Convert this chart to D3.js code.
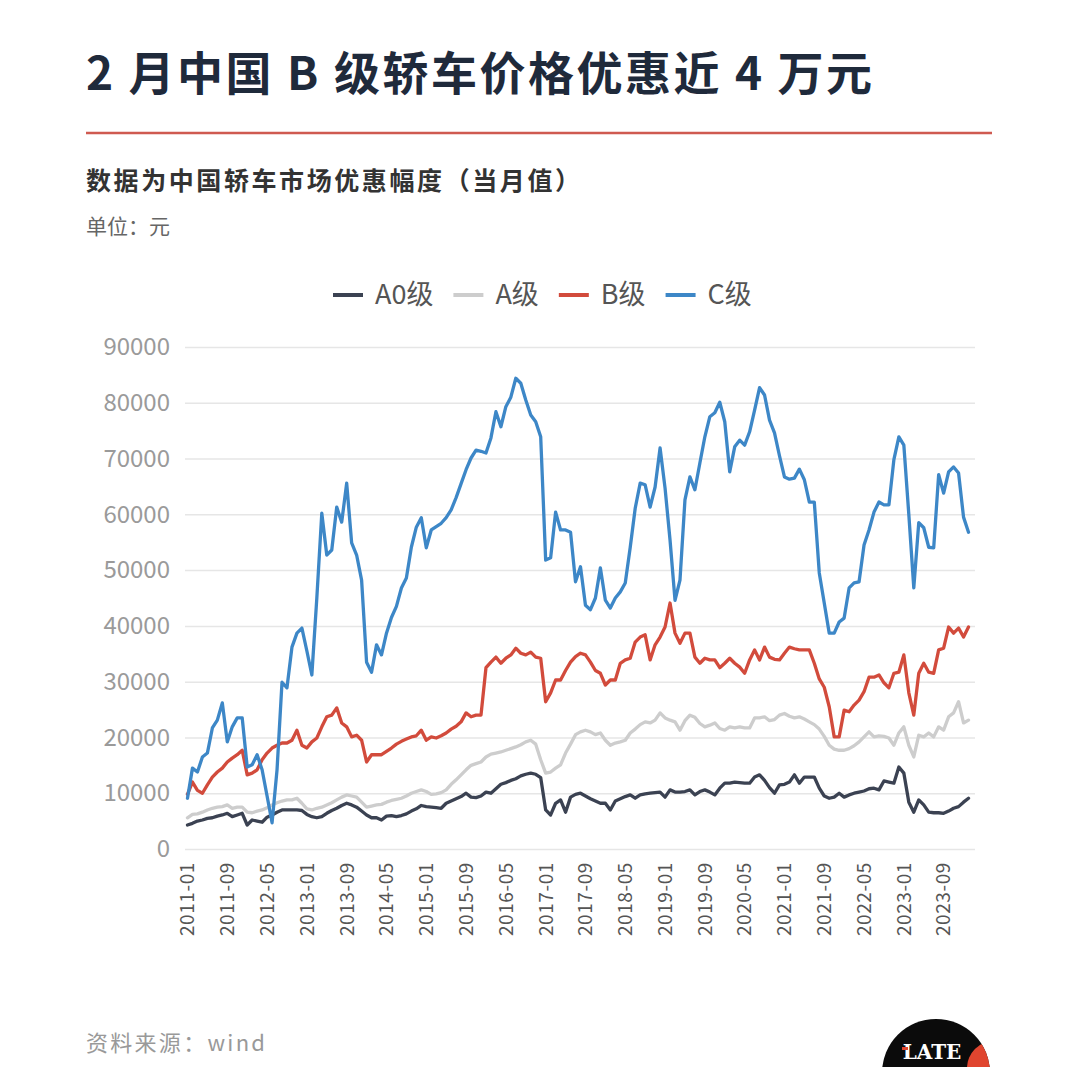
<!DOCTYPE html>
<html>
<head>
<meta charset="utf-8">
<script src="https://cdn.jsdelivr.net/npm/d3@7"></script>
<style>
  html, body { margin: 0; padding: 0; background: #fff; }
  svg { display: block; font-family: "Noto Sans CJK SC", "Noto Sans", sans-serif; }
</style>
</head>
<body>
<script>
// monthly discount, yuan, 2011-01 .. 2024-02
const startMonth = new Date(2011, 0, 1);
const endMonth = new Date(2024, 1, 1);

const seriesNames = ["A0级", "A级", "B级", "C级"];

const a0Values = [
  4300, 4600, 5000, 5200, 5500, 5600, 5900, 6100, 6400, 5800, 6100, 6400,
  4300, 5200, 5000, 4800, 5700, 6100, 6600, 7000, 7000, 7000, 7000, 6900,
  6200, 5800, 5600, 5800, 6400, 6900, 7300, 7800, 8200, 7900, 7500, 6800,
  6100, 5600, 5600, 5200, 5900, 6000, 5800, 6000, 6300, 6800, 7200, 7800,
  7600, 7500, 7400, 7300, 8200, 8600, 9000, 9400, 10000, 9300, 9200, 9500,
  10200, 10000, 10800, 11600, 11900, 12300, 12600, 13100, 13400, 13600, 13400, 12800,
  7000, 6100, 8200, 8800, 6600, 9300, 9800, 10000, 9500, 9000, 8600, 8200,
  8200, 7000, 8600, 9000, 9400, 9700, 9100, 9700, 9900, 10000, 10100, 10200,
  9300, 10600, 10200, 10200, 10300, 10600, 9700, 10300, 10600, 10200, 9700, 10900,
  11800, 11800, 12000, 11900, 11800, 11800, 12900, 13300, 12300, 11000, 10000, 11500,
  11600, 12000, 13300, 11800, 12900, 12900, 12900, 10900, 9500, 9100, 9300, 10000,
  9300, 9700, 10000, 10200, 10400, 10800, 10900, 10600, 12200, 12000, 11800, 14700,
  13600, 8400, 6600, 8800, 7900, 6600, 6500, 6500, 6400, 6800, 7300, 7600,
  8400, 9100
];

const aValues = [
  5600, 6200, 6300, 6600, 7000, 7300, 7500, 7600, 7900, 7300, 7500, 7500,
  6600, 6500, 6800, 7000, 7400, 7900, 8300, 8600, 8800, 8800, 9100, 8200,
  7200, 7000, 7300, 7500, 7900, 8300, 8800, 9300, 9700, 9500, 9300, 8400,
  7500, 7700, 7900, 8000, 8400, 8700, 8900, 9100, 9500, 10000, 10300, 10600,
  10300, 9800, 9900, 10100, 10600, 11600, 12400, 13300, 14200, 15000, 15300, 15600,
  16500, 17000, 17200, 17400, 17700, 18000, 18300, 18700, 19200, 19500, 18800, 16000,
  13600, 13800, 14500, 15100, 17200, 18800, 20500, 21000, 21300, 21000, 20500, 20800,
  19500, 18600, 19000, 19200, 19500, 20800, 21500, 22300, 22800, 22600, 23100, 24400,
  23500, 23100, 22800, 21300, 23000, 24000, 23600, 22500, 21900, 22200, 22600, 21600,
  21300, 21900, 21700, 21900, 21700, 21700, 23500, 23500, 23700, 23000, 23200, 24000,
  24300, 23800, 23500, 23700, 23300, 22800, 22300, 21500, 20200, 18600, 17900, 17700,
  17700, 18000, 18500, 19200, 20100, 21000, 20100, 20300, 20200, 19900, 18600, 20800,
  21900, 18600, 16500, 20400, 20100, 20800, 20100, 21900, 21300, 23700, 24400, 26400,
  22600, 23100
];

const bValues = [
  9800, 12000, 10500, 10000, 11500, 12900, 13800, 14500, 15600, 16300, 16900, 17700,
  13300, 13600, 14200, 16000, 17200, 18100, 18600, 19000, 19000, 19500, 21300, 18600,
  18100, 19200, 19900, 21900, 23700, 24000, 25300, 22600, 21900, 20100, 20400, 19500,
  15600, 16900, 16900, 16900, 17500, 18100, 18800, 19300, 19700, 20100, 20300, 21300,
  19500, 20100, 19900, 20300, 20800, 21500, 22000, 22800, 24400, 23700, 24000, 24000,
  32500, 33500, 34400, 33300, 34200, 34800, 36000, 35100, 34800, 35300, 34400, 34200,
  26400, 28000, 30300, 30300, 32000, 33500, 34500, 35100, 34800, 33500, 32000, 31500,
  29400, 30300, 30300, 33300, 33900, 34200, 37100, 38000, 38400, 33900, 36600, 38000,
  39800, 44100, 38700, 36900, 38700, 38700, 34400, 33300, 34200, 33900, 33900, 32500,
  33300, 34200, 33300, 32600, 31500, 33900, 35700, 33900, 36200, 34400, 34000, 33900,
  35100, 36200, 35900, 35700, 35700, 35700, 33300, 30500, 29000, 25500, 20100, 20100,
  24900, 24600, 25800, 26700, 28200, 30800, 30800, 31200, 29800, 28900, 31500, 31700,
  34800, 28000, 24000, 31500, 33300, 31700, 31500, 35700, 36000, 39800, 38700, 39600,
  38000, 39800
];

const cValues = [
  9100, 14500, 13800, 16500, 17200, 21700, 23100, 26200, 19200, 21900, 23500, 23500,
  14700, 15100, 16900, 14200, 9500, 4700, 14200, 29900, 28900, 36200, 38700, 39600,
  35500, 31200, 45000, 60200, 52700, 53600, 61300, 58600, 65600, 54900, 52700, 48200,
  33500, 31700, 36600, 34800, 38700, 41500, 43500, 46800, 48600, 54100, 57700, 59400,
  54000, 57200, 57800, 58400, 59400, 60800, 63000, 65500, 68000, 70100, 71500, 71300,
  71000, 73700, 78400, 75700, 79300, 81000, 84400, 83500, 80500, 77800, 76600, 73900,
  51800, 52200, 60400, 57200, 57200, 56800, 47900, 50600, 43700, 42900, 45000, 50400,
  44600, 43200, 45000, 46100, 47700, 54100, 61100, 65600, 65300, 61300, 64900, 71900,
  64700, 55400, 44600, 48200, 62600, 66700, 64400, 69200, 73900, 77500, 78200, 80100,
  76600, 67600, 72100, 73300, 72400, 74800, 78700, 82700, 81400, 76900, 74600, 70500,
  66700, 66300, 66500, 68100, 66200, 62200, 62200, 49500, 44100, 38700, 38700, 40700,
  41400, 46800, 47700, 47900, 54500, 57200, 60400, 62200, 61700, 61700, 69800, 73900,
  72400, 60000, 46800, 58500, 57600, 54100, 54000, 67100, 63800, 67600, 68500, 67400,
  59500, 56800
];

const seriesColors = ["#3b4252", "#cdcdcd", "#d24b3c", "#3d87c7"];

const yTicks = [0, 10000, 20000, 30000, 40000, 50000, 60000, 70000, 80000, 90000];
const xTickLabels = ["2011-01", "2011-09", "2012-05", "2013-01", "2013-09", "2014-05",
  "2015-01", "2015-09", "2016-05", "2017-01", "2017-09", "2018-05", "2019-01",
  "2019-09", "2020-05", "2021-01", "2021-09", "2022-05", "2023-01", "2023-09"];

const fmt = d3.timeFormat("%Y-%m");
const months = d3.timeMonth.range(startMonth, d3.timeMonth.offset(endMonth, 1)).map(fmt);
const allSeries = [a0Values, aValues, bValues, cValues].map((vals, k) => ({
  name: seriesNames[k],
  color: seriesColors[k],
  values: vals.map((v, i) => ({ month: months[i], value: v }))
}));

const W = 1080, H = 1067;
const svg = d3.select("body").append("svg").attr("width", W).attr("height", H);

// header
svg.append("text")
  .attr("x", 86).attr("y", 90)
  .attr("font-size", 46).attr("font-weight", 700)
  .attr("fill", "#1f2a3b")
  .attr("textLength", 786).attr("lengthAdjust", "spacing")
  .text("2 月中国 B 级轿车价格优惠近 4 万元");

svg.append("line")
  .attr("x1", 86).attr("x2", 992).attr("y1", 133).attr("y2", 133)
  .attr("stroke", "#cf5a50").attr("stroke-width", 2.5);

svg.append("text")
  .attr("x", 86).attr("y", 190)
  .attr("font-size", 25).attr("font-weight", 700)
  .attr("fill", "#333")
  .attr("textLength", 494).attr("lengthAdjust", "spacing")
  .text("数据为中国轿车市场优惠幅度（当月值）");

svg.append("text")
  .attr("x", 86).attr("y", 234)
  .attr("font-size", 21)
  .attr("fill", "#666")
  .text("单位：元");

// legend
const legend = svg.append("g").attr("transform", "translate(333,295)");
let lx = 0;
allSeries.forEach(s => {
  const g = legend.append("g").attr("transform", `translate(${lx},0)`);
  g.append("line").attr("x1", 0).attr("x2", 30).attr("y1", 0).attr("y2", 0)
    .attr("stroke", s.color).attr("stroke-width", 4);
  const t = g.append("text").attr("x", 42).attr("dy", "0.35em")
    .attr("font-size", 27).attr("fill", "#555").text(s.name);
  lx += 42 + t.node().getComputedTextLength() + 20;
});

// scales
const x = d3.scaleBand().domain(months).range([185, 971]).padding(0);
const xc = m => x(m) + x.bandwidth() / 2;
const y = d3.scaleLinear().domain([0, 90000]).range([849, 347]);

// y grid + labels
const yAxis = d3.axisLeft(y).tickValues(yTicks).tickSize(-(975 - 185)).tickPadding(15)
  .tickFormat(d3.format("d"));
const gy = svg.append("g").attr("transform", "translate(185,0)").call(yAxis);
gy.select(".domain").remove();
gy.selectAll(".tick line").attr("stroke", "#e6e6e6").attr("stroke-width", 1.5);
gy.selectAll(".tick text").attr("font-size", 24).attr("fill", "#9a9a9a")
  .attr("font-family", "'Noto Sans CJK SC', sans-serif");

// x labels
const xAxis = d3.axisBottom(x).tickValues(xTickLabels).tickSize(0).tickPadding(0);
const gx = svg.append("g").attr("transform", "translate(0,849)").call(xAxis);
gx.select(".domain").remove();
gx.selectAll(".tick text")
  .attr("transform", "rotate(-90)")
  .attr("text-anchor", "end")
  .attr("x", -13).attr("y", 0).attr("dy", "0.36em")
  .attr("font-size", 19).attr("fill", "#555")
  .attr("letter-spacing", 0.6)
  .attr("font-family", "'Noto Sans CJK SC', sans-serif");

// lines
const line = d3.line().x(d => xc(d.month)).y(d => y(d.value)).curve(d3.curveLinear);
svg.append("g").selectAll("path")
  .data(allSeries)
  .join("path")
  .attr("d", d => line(d.values))
  .attr("fill", "none")
  .attr("stroke", d => d.color)
  .attr("stroke-width", 3.3)
  .attr("stroke-linejoin", "round")
  .attr("stroke-linecap", "round");

// footer
svg.append("text")
  .attr("x", 86).attr("y", 1051)
  .attr("font-size", 22).attr("fill", "#999")
  .attr("textLength", 179).attr("lengthAdjust", "spacing")
  .text("资料来源：wind");

// logo (cut by the bottom edge)
const logo = svg.append("g");
logo.append("clipPath").attr("id", "logo-clip")
  .append("circle").attr("cx", 936).attr("cy", 1073).attr("r", 54);
logo.append("circle").attr("cx", 936).attr("cy", 1073).attr("r", 54).attr("fill", "#0b0b0b");
logo.append("circle").attr("cx", 994).attr("cy", 1068).attr("r", 27)
  .attr("fill", "#e0452f").attr("clip-path", "url(#logo-clip)");
logo.append("text").attr("x", 932).attr("y", 1059)
  .attr("text-anchor", "middle")
  .attr("font-family", "'DejaVu Serif', 'Liberation Serif', serif")
  .attr("font-weight", 700).attr("font-size", 20).attr("fill", "#fff")
  .text("LATE");
logo.append("rect").attr("x", 902).attr("y", 1047).attr("width", 6).attr("height", 3).attr("fill", "#e0452f");
</script>
</body>
</html>
